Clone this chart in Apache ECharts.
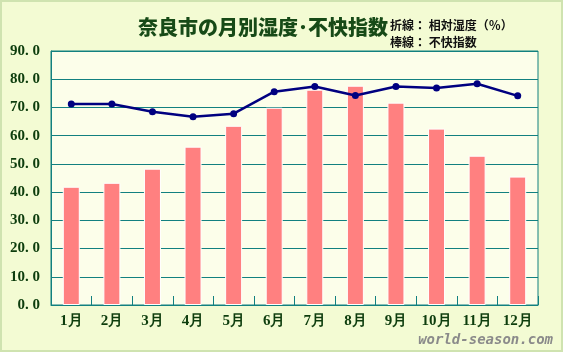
<!DOCTYPE html>
<html><head><meta charset="utf-8">
<script src="https://cdn.jsdelivr.net/npm/echarts@6/dist/echarts.min.js"></script>
<style>html,body{margin:0;padding:0;background:#f3fbd3;}#c{width:563px;height:352px;box-sizing:border-box;border:2px solid #cfe3b0;}</style>
</head><body><div id="c"></div>
<script>
const categories = ['1月','2月','3月','4月','5月','6月','7月','8月','9月','10月','11月','12月'];
const discomfortIndex = [41.9, 43.3, 48.3, 56.1, 63.5, 69.9, 76.3, 77.7, 71.7, 62.5, 52.9, 45.5];
const humidity = [71.2, 71.2, 68.5, 66.7, 67.8, 75.6, 77.4, 74.2, 77.4, 76.9, 78.4, 74.1];
const chart = echarts.init(document.getElementById('c'));
const teal = '#128080';
const green = '#0d3d0d';
chart.setOption({
  animation: false,
  backgroundColor: '#f3fbd3',
  title: {text: '奈良市の月別湿度･不快指数', left: 131, top: 10,
    textStyle: {fontFamily: 'Noto Sans CJK JP', fontWeight: 900, fontSize: 20, color: '#174a17'}},
  graphic: [
    {type: 'text', left: 388, top: 15, style: {text: '折線： 相対湿度（％）\n棒線： 不快指数', font: 'bold 12px "Noto Sans CJK JP"', fill: '#111', lineHeight: 17}},
    {type: 'text', right: 8, bottom: 3, style: {text: 'world-season.com', font: 'italic bold 14px "DejaVu Sans Mono"', fill: '#8a8a8a'}}
  ],
  grid: {left: 49, right: 23, top: 49, bottom: 45, show: true, backgroundColor: '#fcfeea', borderColor: teal, borderWidth: 1},
  xAxis: {type: 'category', data: categories, boundaryGap: true,
    axisLine: {lineStyle: {color: teal}},
    axisTick: {show: true, inside: true, length: 9, lineStyle: {color: teal}},
    axisLabel: {color: green, fontFamily: 'Liberation Serif', fontWeight: 'bold', fontSize: 15, margin: 9}},
  yAxis: {type: 'value', min: 0, max: 90, interval: 10,
    axisLine: {show: true, lineStyle: {color: teal}},
    axisTick: {show: false},
    splitLine: {lineStyle: {color: teal, width: 1}},
    axisLabel: {color: green, fontFamily: 'Liberation Serif', fontWeight: 'bold', fontSize: 15, margin: 11,
      formatter: v => v.toFixed(1).replace('.', '. ')}},
  series: [
    {type: 'bar', data: discomfortIndex, barWidth: 17, itemStyle: {color: '#ff8080', borderColor: '#ffffff', borderWidth: 1}, z: 2},
    {type: 'line', data: humidity, symbol: 'circle', symbolSize: 7, lineStyle: {color: '#000080', width: 2.5}, itemStyle: {color: '#000080'}, z: 3}
  ]
});
</script></body></html>
